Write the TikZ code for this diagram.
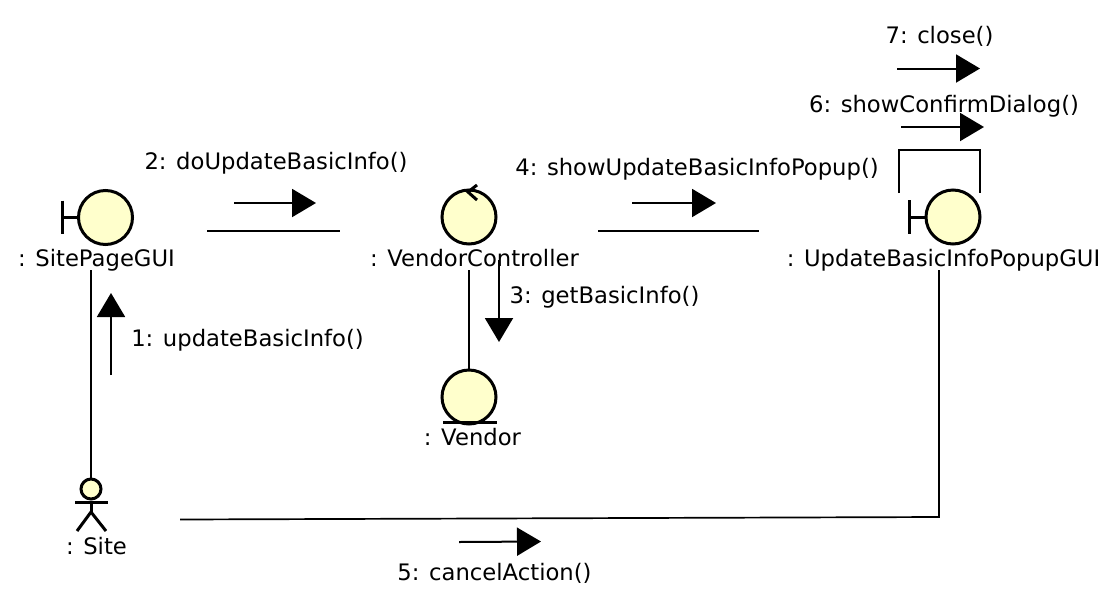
\documentclass[tikz,border=0pt]{standalone}
\usepackage{fontspec}
\setmainfont{DejaVu Sans}
\usetikzlibrary{arrows.meta}
\definecolor{ink}{HTML}{000000}
\definecolor{iconfill}{HTML}{FFFFCC}
\newcommand{\figfontsize}{\fontsize{22.7}{27}\selectfont}
\tikzset{
  every picture/.style = {font=\figfontsize, line join=miter},
  link/.style     = {ink, line width=1.7pt},
  msg/.style      = {ink, line width=2pt, -{Triangle[length=24pt, width=28pt]}},
  icon/.style     = {circle, draw=ink, line width=3pt, fill=iconfill, inner sep=0pt, minimum size=54pt},
  iconbar/.style  = {ink, line width=3pt},
  caption/.style  = {text=ink, anchor=base, inner sep=0pt},
}

\begin{document}
\begin{tikzpicture}[x=1pt, y=-1pt]
  \useasboundingbox (0,0) rectangle (1110,592);

  % --- Icons: boundary, control, entity, actor. -------------------------------
  \node[icon] (sitepage) at (105.5,217.5) {};
  \draw[iconbar] (62,200.5) -- (62,234);
  \draw[iconbar] (62,217.5) -- (sitepage.west);

  \node[icon] (controller) at (469,217) {};
  \draw[iconbar] (477,185) -- (468,192) -- (477,200);

  \node[icon] (vendor) at (469,397) {};
  \draw[iconbar] (443,422) -- (496.5,422);

  \node[icon] (popup) at (953,217) {};
  \draw[iconbar] (909,200) -- (909,234);
  \draw[iconbar] (909,217) -- (popup.west);

  \node[icon, minimum size=20pt] (site) at (91,489) {};
  \draw[iconbar] (site.south) -- (91,512);
  \draw[iconbar] (75,502) -- (108,502);
  \draw[iconbar] (77,531) -- (91,512) -- (106,531);

  % --- Object names. ----------------------------------------------------------
  \node[caption] (sitepagename)   at (96.5,266)  {: SitePageGUI};
  \node[caption] (controllername) at (474.5,266) {: VendorController};
  \node[caption] (vendorname)     at (472.5,445) {: Vendor};
  \node[caption] (popupname)      at (943.5,266) {: UpdateBasicInfoPopupGUI};
  \node[caption] (sitename)       at (96.5,554)  {: Site};

  % --- Links between objects (free ends stop short of the icons). -------------
  \coordinate (sitepagefoot) at (91,270);
  \coordinate (controllerfoot) at (469,270);
  \coordinate (popupfoot) at (939,270);
  \coordinate (popupcorner) at (939,517);
  \coordinate (siteright) at (180,519.5);
  \coordinate (sitepageright) at (207,231);
  \coordinate (controllerleft) at (340,231);
  \coordinate (controllerright) at (598,231);
  \coordinate (popupleft) at (759,231);
  \coordinate (loopleft) at (899,193);
  \coordinate (loopright) at (980,193);
  \draw[link] (sitepagefoot) -- (site.north);
  \draw[link] (controllerfoot) -- (vendor.north);
  \draw[link] (sitepageright) -- (controllerleft);
  \draw[link] (controllerright) -- (popupleft);
  \draw[link] (popupfoot) -- (popupcorner) -- (siteright);
  \draw[link] (loopleft) |- (939,150) -| (loopright);

  % --- Messages: arrow plus numbered label. -----------------------------------
  \coordinate (msgonea) at (111,375);   \coordinate (msgoneb) at (111,293);
  \coordinate (msgtwoa) at (234,203);   \coordinate (msgtwob) at (316,203);
  \coordinate (msgthreea) at (499,260); \coordinate (msgthreeb) at (499,342);
  \coordinate (msgfoura) at (632,203);  \coordinate (msgfourb) at (716,203);
  \coordinate (msgfivea) at (459,542);  \coordinate (msgfiveb) at (541,541.5);
  \coordinate (msgsixa) at (901,127);   \coordinate (msgsixb) at (984,127);
  \coordinate (msgsevena) at (897,68.5);\coordinate (msgsevenb) at (980,68.5);
  \draw[msg] (msgonea) -- (msgoneb);
  \draw[msg] (msgtwoa) -- (msgtwob);
  \draw[msg] (msgthreea) -- (msgthreeb);
  \draw[msg] (msgfoura) -- (msgfourb);
  \draw[msg] (msgfivea) -- (msgfiveb);
  \draw[msg] (msgsixa) -- (msgsixb);
  \draw[msg] (msgsevena) -- (msgsevenb);
  \node[caption] (msgonename)   at (247.5,346) {1: updateBasicInfo()};
  \node[caption] (msgtwoname)   at (276,169)   {2: doUpdateBasicInfo()};
  \node[caption] (msgthreename) at (604.5,303) {3: getBasicInfo()};
  \node[caption] (msgfourname)  at (697,175)   {4: showUpdateBasicInfoPopup()};
  \node[caption] (msgfivename)  at (494.5,580) {5: cancelAction()};
  \node[caption] (msgsixname)   at (944,112)   {6: showConfirmDialog()};
  \node[caption] (msgsevenname) at (939.5,43)  {7: close()};
\end{tikzpicture}
\end{document}
